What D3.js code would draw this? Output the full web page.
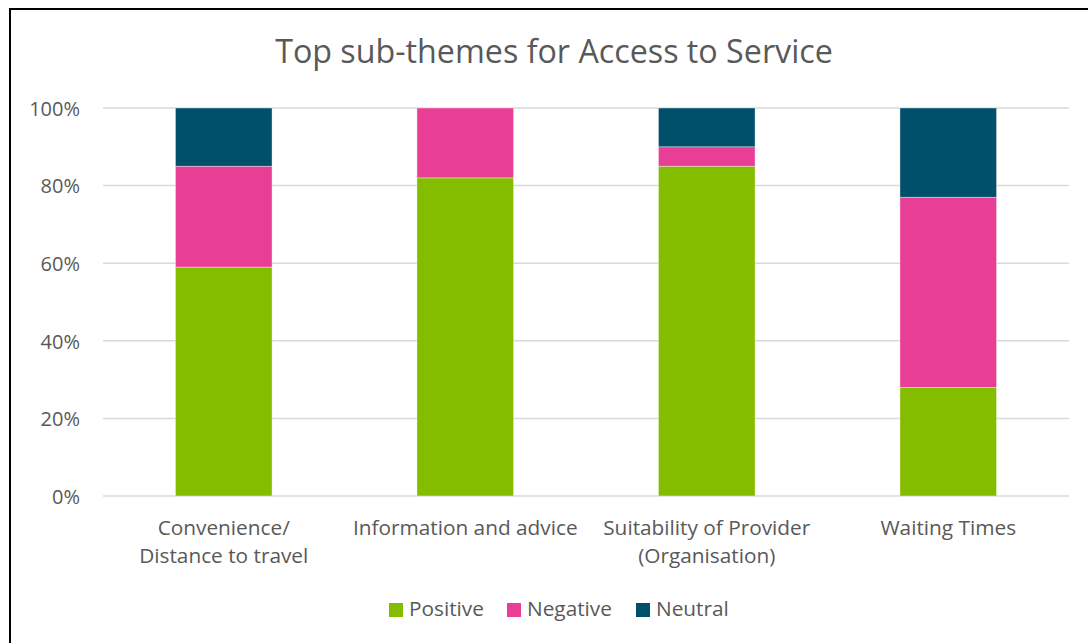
<!DOCTYPE html>
<html>
<head>
<meta charset="utf-8">
<script src="https://cdn.jsdelivr.net/npm/d3@7"></script>
<style>
  html, body { margin: 0; padding: 0; background: #fff; }
  svg { display: block; }
  text { font-family: "Open Sans", sans-serif; fill: #595959; }
</style>
</head>
<body>
<svg id="chart" width="1088" height="643"></svg>
<script>
const categories = [["Convenience/", "Distance to travel"], ["Information and advice"], ["Suitability of Provider", "(Organisation)"], ["Waiting Times"]];
const seriesNames = ["Positive", "Negative", "Neutral"];
const positive = [59, 82, 85, 28];
const negative = [26, 18, 5, 49];
const neutral = [15, 0, 10, 23];
const colors = ["#84BD00", "#E83E96", "#00506B"];
const tickValues = [0, 20, 40, 60, 80, 100];
const title = "Top sub-themes for Access to Service";

const svg = d3.select("#chart");
const margin = {left: 103, right: 1069, top: 108, bottom: 496};

// outer border (top and left visible)
svg.append("path")
  .attr("d", "M10,643 V9 H1088")
  .attr("fill", "none").attr("stroke", "#000").attr("stroke-width", 2);

const keys = categories.map(c => c.join(" "));
const rows = keys.map((k, i) => ({key: k, Positive: positive[i], Negative: negative[i], Neutral: neutral[i]}));

const x = d3.scaleBand().domain(keys).range([margin.left, margin.right]).padding(0);
const y = d3.scaleLinear().domain([0, 100]).range([margin.bottom, margin.top]);
const color = d3.scaleOrdinal().domain(seriesNames).range(colors);

// gridlines
svg.append("g").selectAll("line").data(tickValues).join("line")
  .attr("x1", margin.left).attr("x2", margin.right)
  .attr("y1", d => y(d)).attr("y2", d => y(d))
  .attr("stroke", "#D9D9D9").attr("stroke-width", 1.5);

// y-axis labels
const yAxis = d3.axisLeft(y).tickValues(tickValues).tickFormat(d => d + "%").tickSize(0).tickPadding(0);
const yg = svg.append("g").attr("transform", "translate(80,0)").call(yAxis);
yg.select(".domain").remove();
yg.selectAll("text").style("font-family", "Open Sans").style("font-size", "20px").attr("fill", "#595959").attr("dy", "0.36em");

// stacked bars
const stack = d3.stack().keys(seriesNames)(rows);
const barW = x.bandwidth() * 0.4;
svg.append("g").selectAll("g").data(stack).join("g")
  .attr("fill", d => color(d.key))
  .selectAll("rect").data(d => d).join("rect")
  .attr("x", d => x(d.data.key) + (x.bandwidth() - barW) / 2)
  .attr("width", barW)
  .attr("y", d => y(d[1]))
  .attr("height", d => y(d[0]) - y(d[1]))
  .attr("stroke", "#ffffff").attr("stroke-opacity", 0.5).attr("stroke-width", 0.75);

// category labels
const cg = svg.append("g");
categories.forEach((lines, i) => {
  const cx = x(keys[i]) + x.bandwidth() / 2;
  const t = cg.append("text").attr("text-anchor", "middle").style("font-size", "20.8px");
  lines.forEach((ln, j) => {
    t.append("tspan").attr("x", cx).attr("y", 535 + j * 28).text(ln);
  });
});

// title
const tt = svg.append("text").attr("x", 554).attr("y", 63).attr("text-anchor", "middle")
  .style("font-size", "30px").text(title);
const tw = tt.node().getComputedTextLength();
tt.style("font-size", (30 * 558 / tw) + "px");

// legend
const legendX = [389, 507, 636];
const lg = svg.append("g");
seriesNames.forEach((s, i) => {
  lg.append("rect").attr("x", legendX[i]).attr("y", 603).attr("width", 14).attr("height", 14).attr("fill", color(s));
  lg.append("text").attr("x", legendX[i] + 20).attr("y", 616).style("font-size", "20.8px").text(s);
});
</script>
</body>
</html>
